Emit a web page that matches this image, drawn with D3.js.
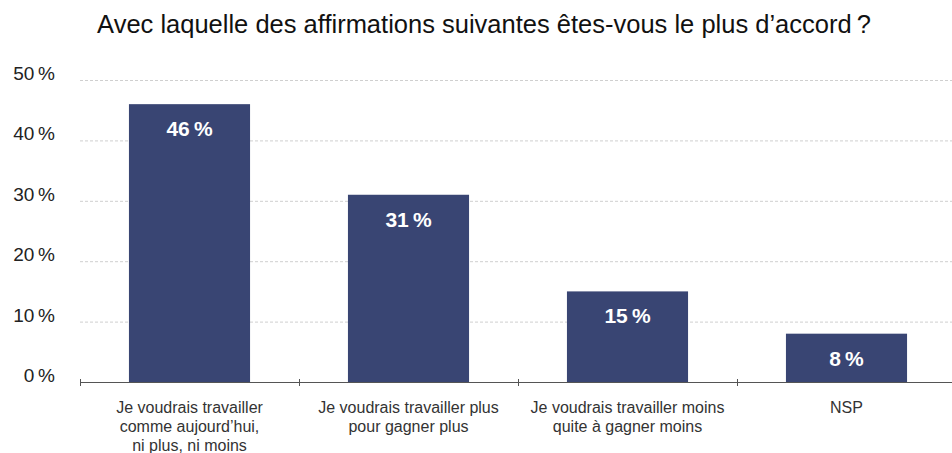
<!DOCTYPE html>
<html>
<head>
<meta charset="utf-8">
<title>Avec laquelle des affirmations</title>
<script src="https://d3js.org/d3.v7.min.js"></script>
<style>
    body { margin: 0; background: #fff; }
    svg { font-family: "Liberation Sans", Arial, sans-serif; }
</style>
</head>
<body>
<svg width="952" height="453"></svg>
<script>
    var categories = [
        ["Je voudrais travailler", "comme aujourd\u2019hui,", "ni plus, ni moins"],
        ["Je voudrais travailler plus", "pour gagner plus"],
        ["Je voudrais travailler moins", "quite \u00e0 gagner moins"],
        ["NSP"]
    ];
    var values = [46, 31, 15, 8];
    var yTicks = [0, 10, 20, 30, 40, 50];
    var title = "Avec laquelle des affirmations suivantes \u00eates-vous le plus d\u2019accord\u2009?";

    var svg = d3.select("svg"),
        margin = {top: 80, right: -4, bottom: 71, left: 80},
        width = +svg.attr("width") - margin.left - margin.right,
        height = +svg.attr("height") - margin.top - margin.bottom;

    var x = d3.scaleBand().domain(d3.range(categories.length)).range([0, width]).paddingInner(0.447).paddingOuter(0.2235),
        y = d3.scaleLinear().domain([0, 50]).range([height, 0]);

    var g = svg.append("g")
        .attr("transform", "translate(" + margin.left + "," + margin.top + ")");

    // title
    svg.append("text")
        .attr("x", 484)
        .attr("y", 33)
        .attr("text-anchor", "middle")
        .style("font-size", "25.5px")
        .style("fill", "#111")
        .text(title);

    // grid lines
    g.selectAll(".grid")
        .data(yTicks.filter(function(d) { return d > 0; }))
        .enter().append("line")
        .attr("x1", 0)
        .attr("x2", 872)
        .attr("y1", function(d) { return y(d) + 0.5; })
        .attr("y2", function(d) { return y(d) + 0.5; })
        .attr("stroke", "#cfcfcf")
        .attr("stroke-dasharray", "3,2");

    // y labels
    svg.selectAll(".ylab")
        .data(yTicks)
        .enter().append("text")
        .attr("x", 55)
        .attr("y", function(d) { return margin.top + y(d); })
        .attr("text-anchor", "end")
        .style("font-size", "19px")
        .style("fill", "#222")
        .text(function(d) { return d + "\u2009%"; });

    // bars
    g.selectAll(".bar")
        .data(values)
        .enter().append("rect")
        .attr("x", function(d, i) { return x(i); })
        .attr("y", function(d) { return y(d); })
        .attr("width", x.bandwidth())
        .attr("height", function(d) { return height - y(d); })
        .attr("fill", "#394573");

    // value labels
    g.selectAll(".val")
        .data(values)
        .enter().append("text")
        .attr("x", function(d, i) { return x(i) + x.bandwidth() / 2; })
        .attr("y", function(d) { return y(d) + 32; })
        .attr("text-anchor", "middle")
        .style("font-size", "21px")
        .style("font-weight", "bold")
        .style("fill", "#fff")
        .text(function(d) { return d + "\u2009%"; });

    // x axis
    g.append("line")
        .attr("x1", 0).attr("x2", 872)
        .attr("y1", height + 0.5).attr("y2", height + 0.5)
        .attr("stroke", "#555");

    var step = x.step();
    g.selectAll(".tick")
        .data(d3.range(categories.length))
        .enter().append("line")
        .attr("x1", function(i) { return Math.round(x(i) - x.paddingOuter() * step) + 0.5; })
        .attr("x2", function(i) { return Math.round(x(i) - x.paddingOuter() * step) + 0.5; })
        .attr("y1", height - 3)
        .attr("y2", height + 4)
        .attr("stroke", "#555");

    var lab = g.selectAll(".xlab")
        .data(categories)
        .enter().append("text")
        .attr("text-anchor", "middle")
        .style("font-size", "16px")
        .style("fill", "#333")
        .attr("transform", function(d, i) { return "translate(" + (x(i) + x.bandwidth() / 2) + "," + (height + 31) + ")"; });

    lab.selectAll("tspan")
        .data(function(d) { return d; })
        .enter().append("tspan")
        .attr("x", 0)
        .attr("y", function(d, i) { return i * 19; })
        .text(function(d) { return d; });
</script>
</body>
</html>
